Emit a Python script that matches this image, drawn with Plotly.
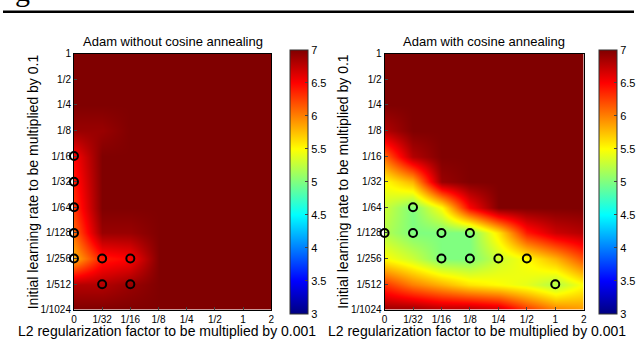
import plotly.graph_objects as go

# ---- data ----
x_labels = ["0", "1/32", "1/16", "1/8", "1/4", "1/2", "1", "2"]
y_labels = ["1/1024", "1/512", "1/256", "1/128", "1/64", "1/32", "1/16", "1/8", "1/4", "1/2", "1"]

# rows listed from top (lr=1) to bottom (lr=1/1024)
z_without_top_down = [
    [7.0, 7.0, 7.0, 7.0, 7.0, 7.0, 7.0, 7.0],  # 1
    [7.0, 7.0, 7.0, 7.0, 7.0, 7.0, 7.0, 7.0],  # 1/2
    [7.0, 7.0, 7.0, 7.0, 7.0, 7.0, 7.0, 7.0],  # 1/4
    [6.9, 6.9, 7.0, 7.0, 7.0, 7.0, 7.0, 7.0],  # 1/8
    [6.5, 7.0, 7.0, 7.0, 7.0, 7.0, 7.0, 7.0],  # 1/16
    [6.4, 7.0, 7.0, 7.0, 7.0, 7.0, 7.0, 7.0],  # 1/32
    [6.3, 7.0, 7.0, 7.0, 7.0, 7.0, 7.0, 7.0],  # 1/64
    [6.1, 6.9, 6.9, 7.0, 7.0, 7.0, 7.0, 7.0],  # 1/128
    [5.8, 6.4, 6.5, 7.0, 7.0, 7.0, 7.0, 7.0],  # 1/256
    [6.8, 6.8, 6.9, 7.0, 7.0, 7.0, 7.0, 7.0],  # 1/512
    [7.0, 7.0, 7.0, 7.0, 7.0, 7.0, 7.0, 7.0],  # 1/1024
]
z_with_top_down = [
    [7.0, 7.0, 7.0, 7.0, 7.0, 7.0, 7.0, 7.0],  # 1
    [7.0, 7.0, 7.0, 7.0, 7.0, 7.0, 7.0, 7.0],  # 1/2
    [7.0, 7.0, 7.0, 7.0, 7.0, 7.0, 7.0, 7.0],  # 1/4
    [6.8, 7.0, 7.0, 7.0, 7.0, 7.0, 7.0, 7.0],  # 1/8
    [6.1, 6.8, 7.0, 7.0, 7.0, 7.0, 7.0, 7.0],  # 1/16
    [5.5, 5.8, 6.9, 7.0, 7.0, 7.0, 7.0, 7.0],  # 1/32
    [5.3, 5.0, 5.5, 6.5, 7.0, 7.0, 7.0, 7.0],  # 1/64
    [5.2, 5.0, 5.0, 5.0, 5.6, 6.4, 6.7, 6.8],  # 1/128
    [5.5, 5.3, 5.0, 5.0, 5.3, 5.5, 5.8, 6.2],  # 1/256
    [6.3, 6.0, 5.8, 5.6, 5.5, 5.4, 5.2, 5.5],  # 1/512
    [6.9, 6.9, 6.8, 6.8, 6.7, 6.3, 6.0, 5.9],  # 1/1024
]

circles_without_x = ["0", "0", "0", "0", "0", "1/32", "1/16", "1/32", "1/16"]
circles_without_y = ["1/16", "1/32", "1/64", "1/128", "1/256", "1/256", "1/256", "1/512", "1/512"]
circles_with_x = ["1/32", "0", "1/32", "1/16", "1/8", "1/16", "1/8", "1/4", "1/2", "1"]
circles_with_y = ["1/64", "1/128", "1/128", "1/128", "1/128", "1/256", "1/256", "1/256", "1/256", "1/512"]

titles = ["Adam without cosine annealing", "Adam with cosine annealing"]
x_title = "L2 regularization factor to be multiplied by 0.001"
y_title = "Initial learning rate to be multiplied by 0.1"
cbar_ticks = [3, 3.5, 4, 4.5, 5, 5.5, 6, 6.5, 7]

# ---- build ----
W, H = 640, 343
FONT = "Liberation Sans, Arial, sans-serif"
jet = [[0.0, "rgb(0,0,128)"], [0.125, "rgb(0,0,255)"], [0.375, "rgb(0,255,255)"],
       [0.625, "rgb(255,255,0)"], [0.875, "rgb(255,0,0)"], [1.0, "rgb(128,0,0)"]]

xi = list(range(len(x_labels)))
yi = list(range(len(y_labels)))
xmap = {l: i for i, l in enumerate(x_labels)}
ymap = {l: i for i, l in enumerate(y_labels)}

def px_x(p):
    return p / W

def px_y(p):
    return 1 - p / H

plots = [
    dict(x0=72, x1=272, cb=291, tx=166, z=z_without_top_down[::-1], cx=circles_without_x, cy=circles_without_y),
    dict(x0=387, x1=589, cb=605, tx=481, z=z_with_top_down[::-1], cx=circles_with_x, cy=circles_with_y),
]
top, bot = 50, 314

fig = go.Figure()
layout = dict(
    width=W, height=H, margin=dict(l=0, r=0, t=0, b=0),
    paper_bgcolor="white", plot_bgcolor="white", showlegend=False,
    font=dict(family=FONT, color="black"),
)
annotations = []
for k, p in enumerate(plots):
    ax = "" if k == 0 else str(k + 1)
    fig.add_trace(go.Heatmap(
        x=xi, y=yi, z=p["z"], zsmooth="best", colorscale=jet, zmin=3, zmax=7,
        xaxis="x" + ax, yaxis="y" + ax,
        colorbar=dict(
            x=px_x(p["cb"]), xanchor="left", xpad=0, ypad=0,
            y=px_y((top + bot) / 2), yanchor="middle",
            thickness=18, thicknessmode="pixels", len=bot - top, lenmode="pixels",
            tickvals=cbar_ticks, ticktext=[f"{t:g}" for t in cbar_ticks],
            ticks="inside", ticklen=3, tickfont=dict(size=11, family=FONT),
            outlinewidth=1, outlinecolor="#333",
        ),
    ))
    fig.add_trace(go.Scatter(
        x=[xmap[v] for v in p["cx"]], y=[ymap[v] for v in p["cy"]],
        mode="markers", xaxis="x" + ax, yaxis="y" + ax, cliponaxis=False,
        marker=dict(symbol="circle-open", size=8, color="black", line=dict(width=2, color="black")),
    ))
    layout["xaxis" + ax] = dict(
        domain=[px_x(p["x0"]), px_x(p["x1"])], anchor="y" + ax, range=[0, len(xi) - 1],
        tickvals=xi, ticktext=x_labels, ticks="inside", ticklen=3, showgrid=False, zeroline=False,
        showline=True, linecolor="black", linewidth=1, mirror=True,
        tickfont=dict(size=10, family=FONT),
    )
    layout["yaxis" + ax] = dict(
        domain=[px_y(bot), px_y(top)], anchor="x" + ax, range=[0, len(yi) - 1],
        tickvals=yi, ticktext=y_labels, ticks="inside", ticklen=3, showgrid=False, zeroline=False,
        showline=True, linecolor="black", linewidth=1, mirror=True,
        tickfont=dict(size=10, family=FONT),
    )
    cx = (p["x0"] + p["x1"]) / 2
    annotations.append(dict(text=titles[k], x=px_x(cx), y=px_y(38), xref="paper", yref="paper",
                            showarrow=False, xanchor="center", yanchor="middle",
                            font=dict(size=13, family=FONT)))
    annotations.append(dict(text=x_title, x=px_x(p["tx"]), y=px_y(336), xref="paper", yref="paper",
                            showarrow=False, xanchor="center", yanchor="middle",
                            font=dict(size=14, family=FONT)))
    annotations.append(dict(text=y_title, x=px_x(p["x0"] - 42), y=px_y((top + bot) / 2),
                            xref="paper", yref="paper", textangle=-90,
                            showarrow=False, xanchor="center", yanchor="middle",
                            font=dict(size=14, family=FONT)))

annotations.append(dict(text="g", x=px_x(10), y=px_y(4), xref="paper", yref="paper",
                        showarrow=False, xanchor="left", yanchor="bottom",
                        font=dict(size=30, family="Liberation Serif, Times New Roman, serif")))
layout["annotations"] = annotations
layout["shapes"] = [dict(type="line", xref="paper", yref="paper", x0=0, x1=1,
                         y0=px_y(7), y1=px_y(7), line=dict(color="black", width=2.5))]
fig.update_layout(**layout)
fig.write_html("out.html", config={"displayModeBar": False},
               post_script="document.body.style.margin='0px';")
